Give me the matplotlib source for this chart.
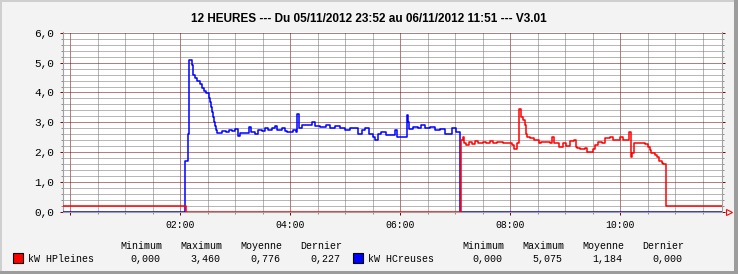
import matplotlib
matplotlib.use('Agg')
import matplotlib.pyplot as plt
from matplotlib.patches import Rectangle
from matplotlib.ticker import FixedLocator, MultipleLocator

W, H = 738, 274

title = "12 HEURES --- Du 05/11/2012 23:52 au 06/11/2012 11:51 --- V3.01"
series_names = ["kW HPleines", "kW HCreuses"]
series_colors = ["#ff0000", "#0000ff"]
stat_headers = ["Minimum", "Maximum", "Moyenne", "Dernier"]
hp_stats = [0.000, 3.460, 0.776, 0.227]
hc_stats = [0.000, 5.075, 1.184, 0.000]

hour_ticks = [0, 2, 4, 6, 8, 10]
hour_labels = ["", "02:00", "04:00", "06:00", "08:00", "10:00"]
t_start, t_end = "23:52", "11:51"

# HCreuses (blue) - step values, value holds until next time
hc_times = ["23:52", "02:05", "02:08", "02:10", "02:13", "02:14", "02:16", "02:18",
            "02:21", "02:24", "02:26", "02:28", "02:31", "02:32", "02:34", "02:35",
            "02:36", "02:37", "02:38", "02:39", "02:40", "02:46", "02:50", "02:53",
            "02:56", "03:00", "03:03", "03:05", "03:12", "03:15", "03:17", "03:21",
            "03:25", "03:29", "03:32", "03:36", "03:40", "03:43", "03:45", "03:51",
            "03:54", "03:56", "04:03", "04:06", "04:07", "04:09", "04:13", "04:20",
            "04:24", "04:27", "04:32", "04:39", "04:43", "04:49", "04:54", "05:00",
            "05:05", "05:10", "05:14", "05:18", "05:22", "05:26", "05:30", "05:32",
            "05:36", "05:39", "05:44", "05:54", "05:56", "06:05", "06:07", "06:08",
            "06:10", "06:14", "06:19", "06:23", "06:27", "06:32", "06:38", "06:43",
            "06:49", "06:56", "07:01", "07:05", "11:51"]
hc_values = [0.0, 1.72, 2.60, 5.075, 4.91, 4.58, 4.47, 4.39,
             4.30, 4.15, 4.05, 3.99, 3.82, 3.69, 3.52, 3.35,
             3.19, 3.02, 2.88, 2.74, 2.65, 2.72, 2.68, 2.76,
             2.70, 2.78, 2.54, 2.65, 2.66, 2.85, 2.68, 2.63,
             2.74, 2.72, 2.80, 2.74, 2.82, 2.89, 2.76, 2.80,
             2.72, 2.67, 2.75, 2.68, 3.27, 2.80, 2.91, 2.93,
             3.02, 2.88, 2.86, 2.90, 2.82, 2.88, 2.80, 2.76,
             2.83, 2.80, 2.63, 2.74, 2.80, 2.60, 2.52, 2.41,
             2.60, 2.69, 2.58, 2.74, 2.52, 2.50, 3.24, 3.00,
             2.78, 2.85, 2.80, 2.90, 2.83, 2.85, 2.74, 2.78,
             2.63, 2.80, 2.69, 0.0, 0.0]

# HPleines (red)
hp_times = ["23:52", "02:06", "07:06", "07:08", "07:10", "07:12", "07:15", "07:18",
            "07:21", "07:25", "07:30", "07:34", "07:38", "07:41", "07:45", "07:52",
            "07:59", "08:02", "08:04", "08:07", "08:09", "08:12", "08:14", "08:16",
            "08:17", "08:18", "08:21", "08:26", "08:29", "08:31", "08:34", "08:43",
            "08:45", "08:48", "08:53", "08:57", "09:01", "09:05", "09:09", "09:12",
            "09:13", "09:16", "09:21", "09:24", "09:30", "09:32", "09:36", "09:40",
            "09:43", "09:49", "09:52", "10:00", "10:03", "10:10", "10:12", "10:13",
            "10:15", "10:27", "10:30", "10:32", "10:34", "10:38", "10:40", "10:42",
            "10:45", "10:47", "10:50", "11:51"]
hp_values = [0.227, 0.0, 2.41, 2.50, 2.32, 2.24, 2.35, 2.28,
             2.38, 2.32, 2.35, 2.30, 2.38, 2.32, 2.36, 2.30,
             2.33, 2.24, 2.13, 2.30, 3.46, 3.19, 3.08, 2.91,
             2.63, 2.52, 2.49, 2.43, 2.40, 2.30, 2.35, 2.33,
             2.50, 2.30, 2.19, 2.30, 2.22, 2.39, 2.43, 2.19,
             2.16, 2.10, 2.16, 2.02, 2.10, 2.24, 2.35, 2.30,
             2.47, 2.52, 2.43, 2.50, 2.41, 2.69, 1.85, 1.97,
             2.30, 2.28, 2.19, 2.08, 1.97, 1.91, 1.85, 1.72,
             1.65, 1.61, 0.227, 0.227]


def to_hours(s):
    hh, mm = s.split(":")
    h = int(hh) + int(mm) / 60
    return h - 24 if h > 20 else h


def fmt(v, nd):
    return f"{v:.{nd}f}".replace(".", ",")


plt.rcParams['font.family'] = ['Liberation Mono', 'DejaVu Sans Mono']

fig = plt.figure(figsize=(W / 100, H / 100), dpi=100, facecolor='#f3f3f3')

# frame around the image
fig.patches.append(Rectangle((0, 1 - 2 / H), 1, 2 / H, transform=fig.transFigure, color='#cfcfcf', lw=0))
fig.patches.append(Rectangle((0, 0), 2 / W, 1, transform=fig.transFigure, color='#cfcfcf', lw=0))
fig.patches.append(Rectangle((0, 0), 1, 3 / H, transform=fig.transFigure, color='#9c9c9c', lw=0))
fig.patches.append(Rectangle((1 - 4 / W, 0), 4 / W, 1, transform=fig.transFigure, color='#9c9c9c', lw=0))

ax = fig.add_axes([63 / W, 1 - 212.3 / H, 659 / W, 180 / H])
ax.set_facecolor('white')

ax.step([to_hours(t) for t in hc_times], hc_values, where='post', color=series_colors[1], lw=1.1, zorder=3)
ax.step([to_hours(t) for t in hp_times], hp_values, where='post', color=series_colors[0], lw=1.1, zorder=4)

ax.set_xlim(to_hours(t_start), to_hours(t_end))
ax.set_ylim(0, 6.01)

ax.xaxis.set_major_locator(FixedLocator(hour_ticks))
ax.set_xticklabels(hour_labels)
ax.xaxis.set_minor_locator(MultipleLocator(0.5))
y_ticks = list(range(0, 7))
ax.yaxis.set_major_locator(FixedLocator(y_ticks))
ax.set_yticklabels([fmt(v, 1) for v in y_ticks])
ax.yaxis.set_minor_locator(MultipleLocator(0.2))

# dotted grid: dark red major, gray minor
ax.grid(which='major', color='#6e0000', linestyle=(0, (1, 1)), linewidth=0.72, zorder=1)
ax.grid(which='minor', color='#707070', linestyle=(0, (1, 1)), linewidth=0.72, zorder=1)
ax.set_axisbelow(True)

ax.tick_params(which='major', direction='out', length=2, width=0.72, color='#800000',
               left=True, right=True, bottom=True)
ax.tick_params(which='minor', direction='out', length=1.5, width=0.72, color='#8c8c8c',
               left=True, right=True, bottom=True)
ax.tick_params(axis='y', which='major', labelsize=8, pad=4.3)
ax.tick_params(axis='x', which='major', labelsize=7, pad=3.6)

ax.spines['top'].set_visible(False)
for side in ['left', 'right', 'bottom']:
    ax.spines[side].set_color('#a0a0a0')
    ax.spines[side].set_linewidth(0.8)

# little arrow at the end of the time axis
ax.plot([1 + 7 / 659], [0], marker='>', ms=4.5, mfc='white', mec='#ff0000', mew=0.8,
        transform=ax.transAxes, clip_on=False)

fig.text(368.5 / W, 1 - 19.5 / H, title, ha='center', va='center',
         family='Liberation Sans', weight='bold', size=8.5)

# legend with statistics
for i, (name, color, stats) in enumerate(zip(series_names, series_colors, [hp_stats, hc_stats])):
    x0 = 12.7 + i * 340
    fig.patches.append(Rectangle((x0 / W, 1 - 262.7 / H), 10 / W, 10 / H, transform=fig.transFigure,
                                 facecolor=color, edgecolor='black', lw=0.8))
    fig.text((x0 + 15.3) / W, 1 - 259.5 / H, name, ha='left', va='center', size=7.2)
    hx = 120 + i * 342
    for j, (hdr, v) in enumerate(zip(stat_headers, stats)):
        fig.text((hx + j * 60) / W, 1 - 245.7 / H, hdr, ha='left', va='center', size=7.2)
        fig.text((hx + j * 60 + 10.7) / W, 1 - 259.5 / H, fmt(v, 3), ha='left', va='center', size=7.2)

fig.savefig('out.png', dpi=100, facecolor=fig.get_facecolor())
